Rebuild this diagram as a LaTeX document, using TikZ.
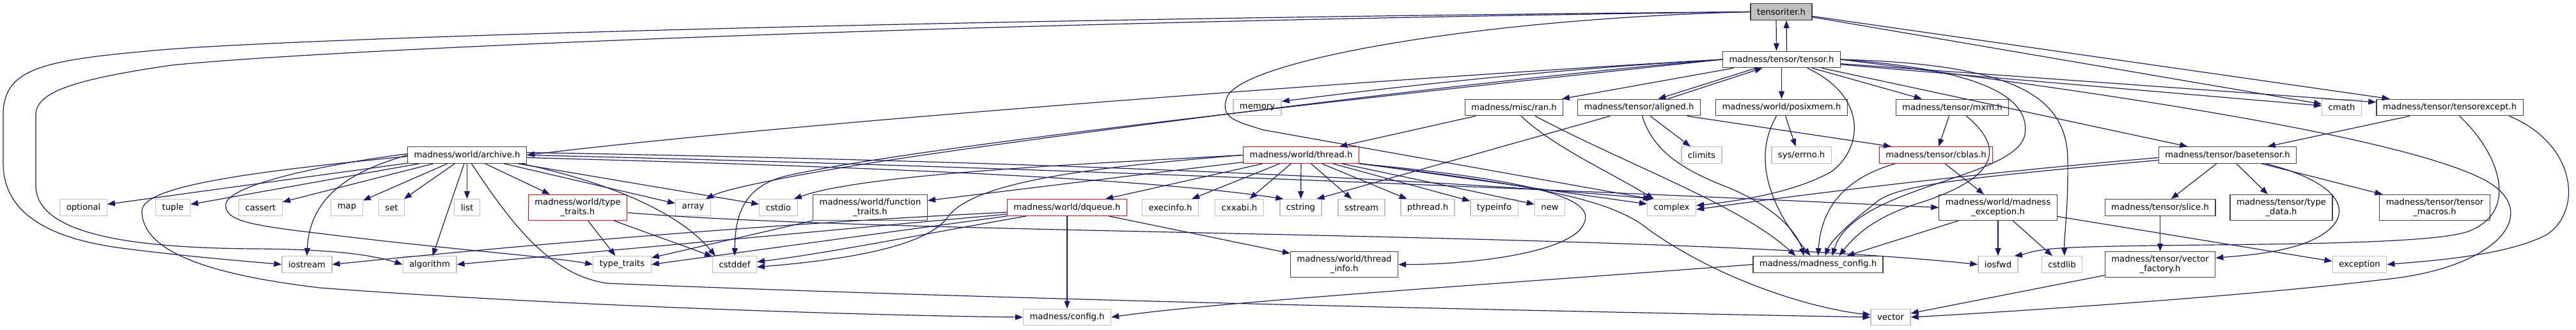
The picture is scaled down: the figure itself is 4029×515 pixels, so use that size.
\documentclass[tikz,border=0pt]{standalone}
\usepackage{fontspec}
\setmainfont{DejaVu Sans}
\usetikzlibrary{arrows.meta}
\definecolor{edgeblue}{HTML}{191970}
\definecolor{docline}{HTML}{404040}
\definecolor{sysline}{HTML}{BFBFBF}
\definecolor{redline}{HTML}{FF0000}
\definecolor{rootfill}{HTML}{BFBFBF}

\begin{document}
\begin{tikzpicture}[
  x=1pt,y=-1pt,
  file/.style={draw=docline,fill=white,line width=1.3pt,font=\fontsize{13.2}{14.5}\selectfont,
    inner xsep=10pt,inner ysep=2pt,minimum height=25.6pt,align=center},
  sysfile/.style={file,draw=sysline},
  redfile/.style={file,draw=redline},
  rootfile/.style={file,fill=rootfill},
  twoline/.style={minimum height=40pt},
  dep/.style={draw=edgeblue,line width=1.2pt,-{Triangle[length=12pt,width=9pt]}}
]
\useasboundingbox (0,0) rectangle (4029,515);

% top
\node[rootfile] (tensoriter) at (2786,18.5) {tensoriter.h};
\node[file] (tensor) at (2786.5,93) {madness/tensor/tensor.h};

% row 2
\node[sysfile] (memory) at (1966.5,168) {memory};
\node[file] (ran) at (2368,168) {madness/misc/ran.h};
\node[file] (aligned) at (2563.5,168) {madness/tensor/aligned.h};
\node[file] (posixmem) at (2786.5,168) {madness/world/posixmem.h};
\node[file] (mxm) at (3053.5,168) {madness/tensor/mxm.h};
\node[sysfile] (cmath) at (3662.5,168) {cmath};
\node[file] (tensorexcept) at (3831.5,168) {madness/tensor/tensorexcept.h};

% row 3
\node[file] (archive) at (730.5,242.5) {madness/world/archive.h};
\node[redfile] (thread) at (2035,242.5) {madness/world/thread.h};
\node[sysfile] (climits) at (2661.5,242.5) {climits};
\node[sysfile] (errno) at (2817.5,242.5) {sys/errno.h};
\node[redfile] (cblas) at (3028,242.5) {madness/tensor/cblas.h};
\node[file] (basetensor) at (3484,242.5) {madness/tensor/basetensor.h};

% row 4
\node[sysfile] (optional) at (130.5,324.5) {optional};
\node[sysfile] (tuple) at (270.5,324.5) {tuple};
\node[sysfile] (cassert) at (407.5,324.5) {cassert};
\node[sysfile] (map) at (542.5,324.5) {map};
\node[sysfile] (set) at (612.5,324.5) {set};
\node[sysfile] (list) at (730.5,324.5) {list};
\node[redfile,twoline] (typetraitsh) at (903.5,324.5) {madness/world/type\\\_traits.h};
\node[sysfile] (array) at (1084,324.5) {array};
\node[sysfile] (cstdio) at (1217.5,324.5) {cstdio};
\node[file,twoline] (functraits) at (1361,324.5) {madness/world/function\\\_traits.h};
\node[redfile] (dqueue) at (1669,324.5) {madness/world/dqueue.h};
\node[sysfile] (execinfo) at (1830.5,324.5) {execinfo.h};
\node[sysfile] (cxxabi) at (1938.5,324.5) {cxxabi.h};
\node[sysfile] (cstring) at (2034.5,324.5) {cstring};
\node[sysfile] (sstream) at (2129.5,324.5) {sstream};
\node[sysfile] (pthread) at (2233,324.5) {pthread.h};
\node[sysfile] (typeinfo) at (2337,324.5) {typeinfo};
\node[sysfile] (new) at (2424,324.5) {new};
\node[sysfile] (complex) at (2614.5,324.5) {complex};
\node[file,twoline] (mexception) at (3125,324.5) {madness/world/madness\\\_exception.h};
\node[file] (slice) at (3378.5,324.5) {madness/tensor/slice.h};
\node[file,twoline] (typedata) at (3568,324.5) {madness/tensor/type\\\_data.h};
\node[file,twoline] (macros) at (3808,324.5) {madness/tensor/tensor\\\_macros.h};

% row 5
\node[sysfile] (iostream) at (480,413.5) {iostream};
\node[sysfile] (algorithm) at (672,413.5) {algorithm};
\node[sysfile] (typetraits) at (973,413.5) {type\_traits};
\node[sysfile] (cstddef) at (1149,413.5) {cstddef};
\node[file,twoline] (threadinfo) at (2102.5,413.5) {madness/world/thread\\\_info.h};
\node[file] (mconfig) at (2843.5,413.5) {madness/madness\_config.h};
\node[sysfile] (iosfwd) at (3125,413.5) {iosfwd};
\node[sysfile] (cstdlib) at (3225,413.5) {cstdlib};
\node[file,twoline] (vfactory) at (3378.5,413.5) {madness/tensor/vector\\\_factory.h};
\node[sysfile] (exception) at (3690.5,413.5) {exception};

% row 6
\node[sysfile] (config) at (1669,496) {madness/config.h};
\node[sysfile] (vector) at (2957,496) {vector};

% tensoriter.h
\draw[dep] ([xshift=-8pt]tensoriter.south) -- ([xshift=-8pt]tensor.north);
\draw[dep] ([xshift=8pt]tensor.north) -- ([xshift=8pt]tensoriter.south);
\draw[dep] (tensoriter.west) .. controls (1400,30) and (400,62) .. (230,80)
  .. controls (60,95) and (5,110) .. (5,180) -- (5,255)
  .. controls (5,330) and (70,372) .. (190,388) .. controls (300,402) and (380,408) .. (iostream.west);
\draw[dep] (tensoriter.west) .. controls (1400,36) and (480,80) .. (268,102)
  .. controls (110,125) and (56,145) .. (56,180) -- (56,290)
  .. controls (56,365) and (200,388) .. (400,389) .. controls (520,390) and (580,398) .. (algorithm.west);
\draw[dep] (tensoriter.west) .. controls (2300,30) and (1950,95) .. (1920,150)
  .. controls (1905,185) and (1935,190) .. (1975,203) -- ([xshift=6pt]complex.north west);
\draw[dep] (tensoriter) -- (cmath);
\draw[dep] (tensoriter) -- (tensorexcept);

% tensor.h
\draw[dep] (tensor) -- (cmath);
\draw[dep] (tensor) -- (tensorexcept);
\draw[dep] (tensor) -- (basetensor);
\draw[dep] (tensor) -- (posixmem);
\draw[dep] (tensor) -- (mxm);
\draw[dep] (tensor) -- (ran);
\draw[dep] ([xshift=-40pt]tensor.south) -- ([xshift=30pt]aligned.north);
\draw[dep] ([xshift=45pt]aligned.north) -- ([xshift=-30pt]tensor.south);
\draw[dep] (tensor.west) .. controls (2400,110) and (2150,140) .. ([yshift=-4pt]memory.north east);
\draw[dep] (tensor.west) .. controls (2300,115) and (1300,185) .. (archive.east);
\draw[dep] (tensor.west) .. controls (2300,125) and (1500,230) .. (1300,265)
  .. controls (1190,284) and (1130,298) .. ([xshift=-8pt]array.north east);
\draw[dep] (tensor.west) .. controls (2300,135) and (1450,225) .. (1230,275)
  .. controls (1160,292) and (1150,340) .. (cstddef.north);
\draw[dep] ([xshift=40pt]tensor.south) .. controls (2920,150) and (2915,230) .. (2865,268)
  .. controls (2800,305) and (2700,316) .. ([yshift=3pt]complex.east);
\draw[dep] (tensor.east) .. controls (3120,110) and (3175,160) .. (3167,210)
  .. controls (3155,280) and (2900,290) .. ([xshift=22pt]mconfig.north);
\draw[dep] (tensor.east) .. controls (3150,100) and (3233,150) .. (3234,250)
  .. controls (3235,330) and (3228,370) .. ([xshift=4pt]cstdlib.north);
\draw[dep] (tensor.east) .. controls (3300,145) and (3800,220) .. (3900,290)
  .. controls (3970,340) and (3900,420) .. (3729,437) .. controls (3500,465) and (3100,490) .. (vector.east);

% aligned.h
\draw[dep] (aligned) -- (climits);
\draw[dep] ([xshift=75pt]aligned.south) -- ([xshift=-70pt]cblas.north);
\draw[dep] ([xshift=-45pt]aligned.south) -- ([xshift=25pt]cstring.north);
\draw[dep] ([xshift=5pt]aligned.south) .. controls (2585,235) and (2630,265) .. (2700,292)
  .. controls (2770,320) and (2810,360) .. ([xshift=-22pt]mconfig.north);

% ran.h
\draw[dep] (ran) -- (thread);
\draw[dep] ([xshift=11pt]ran.south) .. controls (2430,230) and (2520,270) .. ([xshift=-28pt]complex.north);
\draw[dep] ([xshift=33pt]ran.south) .. controls (2550,260) and (2720,320) .. ([xshift=-35pt]mconfig.north);

% posixmem.h, mxm.h, cblas.h
\draw[dep] ([xshift=6pt]posixmem.south) -- ([xshift=-9pt]errno.north);
\draw[dep] ([xshift=-8pt]posixmem.south) .. controls (2750,230) and (2750,300) .. ([xshift=-12pt]mconfig.north);
\draw[dep] ([xshift=-5pt]mxm.south) -- ([xshift=4pt]cblas.north);
\draw[dep] ([xshift=22pt]mxm.south) .. controls (3140,235) and (3120,280) .. (3000,318)
  .. controls (2930,340) and (2900,370) .. ([xshift=33pt]mconfig.north);
\draw[dep] ([xshift=-64pt]cblas.south) .. controls (2880,280) and (2848,330) .. (mconfig.north);
\draw[dep] ([xshift=14pt]cblas.south) -- ([xshift=-22pt]mexception.north);

% tensorexcept.h
\draw[dep] (tensorexcept) -- (basetensor);
\draw[dep] ([xshift=15pt]tensorexcept.south) .. controls (3905,235) and (3945,330) .. (3860,362)
  .. controls (3780,390) and (3300,378) .. (3200,390) .. controls (3175,393) and (3165,398) .. ([xshift=-6pt]iosfwd.north east);
\draw[dep] ([xshift=93pt]tensorexcept.south) .. controls (4030,225) and (4040,330) .. (3983,367)
  .. controls (3920,400) and (3800,408) .. (exception.east);

% basetensor.h
\draw[dep] (basetensor) -- (slice);
\draw[dep] (basetensor) -- (typedata);
\draw[dep] (basetensor) -- (macros);
\draw[dep] ([xshift=60pt]basetensor.south) .. controls (3680,290) and (3690,350) .. (3600,382)
  .. controls (3550,398) and (3500,400) .. ([yshift=10pt]vfactory.east);
\draw[dep] ([yshift=-4pt]basetensor.west) .. controls (3100,270) and (2850,300) .. ([yshift=-3pt]complex.east);
\draw[dep] ([yshift=-8pt]basetensor.west) .. controls (3050,280) and (2960,290) .. (2930,320)
  .. controls (2885,355) and (2862,380) .. ([xshift=11pt]mconfig.north);

% madness_exception.h, slice.h, vector_factory.h, madness_config.h
\draw[dep] (mexception) -- (iosfwd);
\draw[dep] (mexception) -- (cstdlib);
\draw[dep] ([xshift=-62pt]mexception.south) -- ([xshift=45pt]mconfig.north);
\draw[dep] ([yshift=-14pt]mexception.east) -- ([yshift=5pt]exception.west);
\draw[dep] (slice) -- (vfactory);
\draw[dep] (vfactory) -- (vector);
\draw[dep] (mconfig.west) .. controls (2400,440) and (1900,472) .. (config.east);

% archive.h
\foreach \t in {optional,tuple,cassert,map,set,list,typetraitsh,array,cstdio,algorithm}
  \draw[dep] (archive) -- (\t);
\draw[dep] (archive.west) .. controls (560,265) and (485,300) .. (iostream.north);
\draw[dep] ([xshift=7pt]archive.south) .. controls (800,350) and (860,430) .. (950,443)
  .. controls (1600,470) and (2500,488) .. (vector.west);
\draw[dep] ([yshift=-2pt]archive.west) .. controls (400,268) and (222,290) .. (222,330)
  .. controls (222,400) and (350,432) .. (500,450) .. controls (900,480) and (1400,494) .. (config.west);
\draw[dep] ([yshift=2pt]archive.west) .. controls (500,258) and (355,290) .. (353,320)
  .. controls (352,345) and (390,352) .. (500,365) .. controls (700,390) and (850,400) .. (typetraits.west);
\draw[dep] ([xshift=-8pt]archive.south east) .. controls (950,285) and (1060,330) .. ([xshift=5pt]cstddef.north west);
\draw[dep] ([yshift=4pt]archive.east) .. controls (1500,250) and (2200,275) .. ([xshift=10pt]complex.north west);
\draw[dep] (archive.east) .. controls (1500,258) and (2300,290) .. (mexception.west);
\draw[dep] ([yshift=-4pt]archive.east) .. controls (1400,262) and (1800,280) .. ([xshift=6pt]cstring.north west);

% type_traits.h, function_traits.h
\draw[dep] (typetraitsh) -- (typetraits);
\draw[dep] (typetraitsh) -- (cstddef);
\draw[dep] ([yshift=-8pt]typetraitsh.east) .. controls (1400,368) and (2600,362) .. (iosfwd.west);
\draw[dep] (functraits) -- (typetraits);

% thread.h
\foreach \t in {dqueue,execinfo,cxxabi,cstring,sstream,pthread,typeinfo,new,functraits,complex}
  \draw[dep] (thread) -- (\t);
\draw[dep] (thread.west) .. controls (1700,256) and (1350,272) .. ([xshift=-6pt]cstdio.north east);
\draw[dep] (thread.west) .. controls (1700,262) and (1520,285) .. (1482,340)
  .. controls (1445,390) and (1300,408) .. ([yshift=-4pt]cstddef.east);
\draw[dep] (thread.south east) .. controls (2400,290) and (2520,310) .. (2580,360)
  .. controls (2700,445) and (2850,485) .. ([yshift=4pt]vector.west);
\draw[dep] (thread.south east) .. controls (2400,282) and (2495,310) .. (2478,348)
  .. controls (2462,395) and (2300,414) .. (threadinfo.east);

% dqueue.h
\draw[dep] (dqueue) -- (config);
\draw[dep] (dqueue) -- (threadinfo);
\draw[dep] (dqueue.south west) -- (typetraits.east);
\draw[dep] ([xshift=30pt]dqueue.south west) .. controls (1450,365) and (1300,395) .. ([yshift=4pt]cstddef.east);
\draw[dep] ([yshift=3pt]dqueue.south west) -- (algorithm.east);
\draw[dep] ([yshift=6pt]dqueue.south west) .. controls (1200,350) and (800,385) .. (iostream.east);
\end{tikzpicture}
\end{document}
